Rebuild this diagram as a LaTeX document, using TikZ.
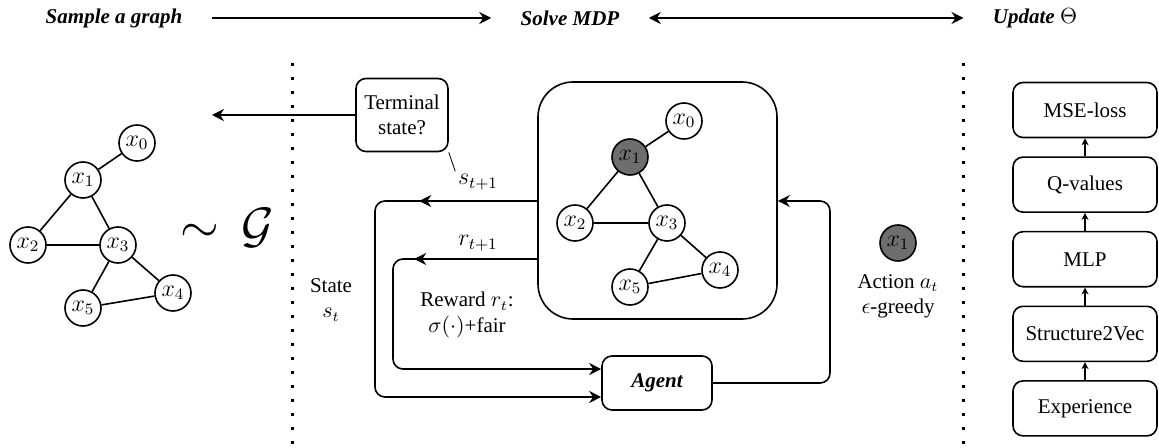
\documentclass[tikz,border=0pt]{standalone}
\usepackage[no-math]{fontspec}
\setmainfont{Liberation Serif}
\usepackage{xcolor}
\usetikzlibrary{arrows.meta,positioning,decorations.markings}
\definecolor{pickgray}{RGB}{110,110,110}

\begin{document}
\begin{tikzpicture}[y=-0.5pt,x=0.5pt,line width=0.8pt,
	font=\fontsize{10.5}{12.6}\selectfont,
	vert/.style={circle,draw,minimum size=18pt,inner sep=0pt,font=\fontsize{12}{14}\selectfont},
	picked/.style={vert,fill=pickgray},
	box/.style={draw,rounded corners=5pt,minimum width=72pt,minimum height=27.5pt,align=center},
	head/.style={font=\fontsize{10.5}{12.6}\selectfont\bfseries\itshape},
	mlbl/.style={font=\fontsize{12}{14}\selectfont},
	flow/.style={-{Stealth[length=6pt,width=6pt]},rounded corners=5pt},
	small/.style={-{Stealth[length=3.5pt,width=3.5pt]}},
	sep/.style={line width=1.5pt,dash pattern=on 1.5pt off 5.5pt},
	midtip/.style={postaction={decorate},decoration={markings,
		mark=at position #1 with {\arrow{Stealth[length=6pt,width=6pt]}}}}]
	\useasboundingbox (0,0) rectangle (1159,448);

	% headings
	\node[head] (sample) at (114,18) {Sample a graph};
	\node[head] (solve) at (570,18) {Solve MDP};
	\node[head] (update) at (1035,18) {Update $\Theta$};
	\draw[-{Stealth[length=6pt,width=6pt]},shorten >=11pt,shorten <=11pt] (sample) -- (solve);
	\draw[{Stealth[length=6pt,width=6pt]}-{Stealth[length=6pt,width=6pt]},shorten >=11pt,shorten <=11pt] (solve) -- (update);

	\draw[sep] (292,63) -- (292,445);
	\draw[sep] (963,63) -- (963,445);

	% sampled graph
	\node[vert] (a0) at (137,143) {$x_0$};
	\node[vert] (a1) at (83,180) {$x_1$};
	\node[vert] (a2) at (28,245) {$x_2$};
	\node[vert] (a3) at (118,245) {$x_3$};
	\node[vert] (a4) at (173,293) {$x_4$};
	\node[vert] (a5) at (83,308) {$x_5$};
	\draw (a0) -- (a1) (a1) -- (a2) (a1) -- (a3) (a2) -- (a3)
		(a3) -- (a4) (a3) -- (a5) (a5) -- (a4);
	\node[font=\fontsize{23}{28}\selectfont] (dist) at (227,228) {$\sim\,\mathcal{G}$};

	% MDP
	\node[draw,rounded corners=5pt,minimum width=46pt,minimum height=36.5pt,
		align=center,inner sep=2pt] (term) at (402,115) {Terminal\\state?};
	\coordinate (back) at (212,115);
	\draw[-{Stealth[length=6pt,width=6pt]}] (term.west) -- (back);

	\node[draw,rounded corners=17.5pt,minimum width=119.5pt,minimum height=118.5pt] (mdp) at (657.5,200.5) {};
	\node[vert] (b0) at (684,121) {$x_0$};
	\node[picked] (b1) at (630,157) {$x_1$};
	\node[vert] (b2) at (575,223) {$x_2$};
	\node[vert] (b3) at (667,223) {$x_3$};
	\node[vert] (b4) at (720,270) {$x_4$};
	\node[vert] (b5) at (630,287) {$x_5$};
	\draw (b0) -- (b1) (b1) -- (b2) (b1) -- (b3) (b2) -- (b3)
		(b3) -- (b4) (b3) -- (b5) (b5) -- (b4);

	\node[draw,rounded corners=5pt,minimum width=55pt,minimum height=27pt,head] (agent) at (657,383) {Agent};

	\draw[flow,midtip=59pt] (mdp.west |- 0,201) -- (375,201) -- (375,397) -- (agent.west |- 0,397);
	\draw[flow,midtip=61.5pt] (mdp.west |- 0,259) -- (393,259) -- (393,369) -- (agent.west |- 0,369);
	\draw[flow] (agent.east) -- (830,383) -- (830,201) -- (mdp.east |- 0,201);

	\node[mlbl,inner sep=1pt] (slbl) at (478,182) {$s_{t+1}$};
	\node[mlbl] (rlbl) at (478,243) {$r_{t+1}$};
	\draw[line width=0.4pt] (term.south east) -- (slbl.north west);
	\node[align=center] (state) at (331,300) {State\\$s_t$};
	\node[align=center] (reward) at (467,315) {Reward $r_t$:\\$\sigma(\cdot)$+fair};

	\node[picked] (act) at (898,243) {$x_1$};
	\node[align=center] (actlbl) at (898,296) {Action $a_t$\\$\epsilon$-greedy};

	% update
	\node[box] (mse) at (1085,110) {MSE-loss};
	\node[box,below=9pt of mse] (qval) {Q-values};
	\node[box,below=9pt of qval] (mlp) {MLP};
	\node[box,below=9pt of mlp] (s2v) {Structure2Vec};
	\node[box,below=9pt of s2v] (exper) {Experience};
	\foreach \a/\b in {exper/s2v,s2v/mlp,mlp/qval,qval/mse}
		\draw[small] (\a) -- (\b);
\end{tikzpicture}
\end{document}
